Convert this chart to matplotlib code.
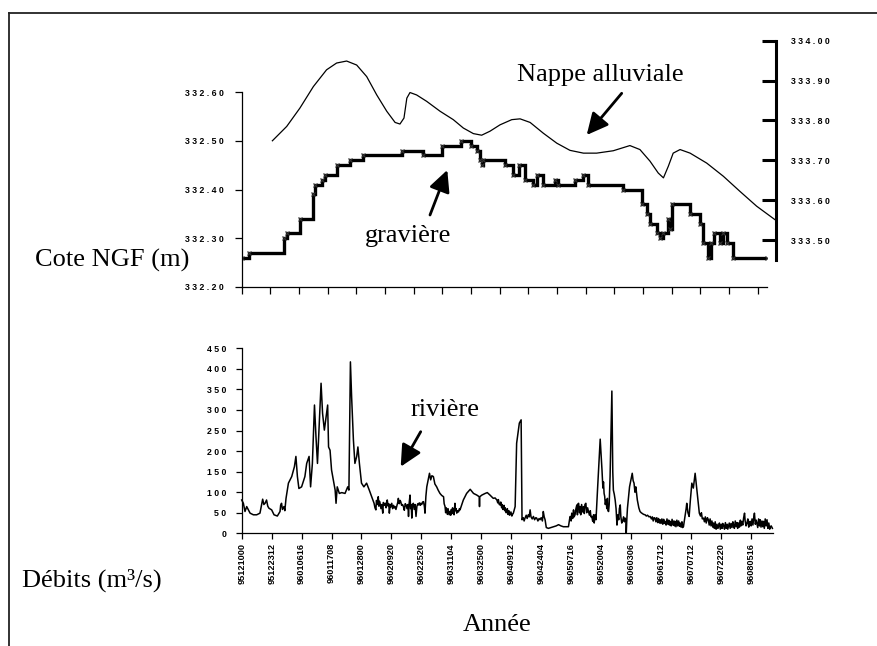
import matplotlib
matplotlib.use('Agg')
import matplotlib.pyplot as plt
from matplotlib.ticker import FuncFormatter
from matplotlib.lines import Line2D

W, H, DPI = 877, 646, 100

# ---------------- data ----------------
# gravière (left axis, m NGF) : step positions (in tick intervals) and levels
grav_t = [0.00, 0.27, 1.475, 1.59, 2.03, 2.50, 2.56, 2.79, 2.91, 3.31, 3.78, 4.24,
          5.58, 6.34, 6.98, 7.65, 8.00, 8.20, 8.31, 8.37, 8.43, 9.18, 9.47, 9.68,
          9.88, 10.17, 10.29, 10.52, 10.93, 11.04, 11.63, 11.91, 12.09, 13.31,
          13.95, 14.13, 14.24, 14.47, 14.59, 14.71, 14.88, 14.94, 15.00, 15.64,
          15.99, 16.10, 16.28, 16.36, 16.47, 16.68, 16.78, 16.92, 17.15, 18.31]
grav_v = [332.26, 332.27, 332.30, 332.31, 332.34, 332.39, 332.41, 332.42, 332.43,
          332.45, 332.46, 332.47, 332.48, 332.47, 332.49, 332.50, 332.49, 332.48,
          332.46, 332.45, 332.46, 332.45, 332.43, 332.45, 332.42, 332.41, 332.43,
          332.41, 332.42, 332.41, 332.42, 332.43, 332.41, 332.40, 332.37, 332.35,
          332.33, 332.31, 332.30, 332.31, 332.34, 332.32, 332.37, 332.35, 332.33,
          332.29, 332.26, 332.29, 332.31, 332.29, 332.31, 332.29, 332.26, 332.26]

# nappe alluviale (right axis, m NGF)
nappe_t = [1.07, 1.57, 2.03, 2.50, 2.96, 3.31, 3.66, 4.01, 4.36, 4.71, 5.06, 5.35,
           5.52, 5.66, 5.76, 5.87, 6.10, 6.45, 6.92, 7.38, 7.73, 8.08, 8.37, 8.66,
           9.01, 9.42, 9.71, 10.06, 10.52, 10.99, 11.45, 11.92, 12.38, 12.96, 13.54,
           13.89, 14.24, 14.53, 14.71, 14.88, 15.05, 15.29, 15.64, 16.22, 16.80,
           17.38, 17.96, 18.66]
nappe_v = [333.749, 333.785, 333.831, 333.885, 333.927, 333.944, 333.949, 333.939,
           333.910, 333.864, 333.823, 333.795, 333.791, 333.806, 333.856, 333.870,
           333.864, 333.848, 333.823, 333.802, 333.781, 333.767, 333.763, 333.773,
           333.789, 333.802, 333.804, 333.795, 333.768, 333.743, 333.725, 333.718,
           333.718, 333.724, 333.737, 333.727, 333.698, 333.668, 333.656, 333.685,
           333.718, 333.727, 333.718, 333.693, 333.660, 333.622, 333.585, 333.548]

# rivière (débits m3/s) : (position, value) pairs
riv_pts = [
    (0.00, 81), (0.056, 73), (0.11, 53), (0.167, 65), (0.28, 49), (0.39, 45),
    (0.50, 45), (0.61, 49), (0.70, 83), (0.74, 70), (0.78, 73), (0.83, 81),
    (0.87, 66), (0.91, 61), (1.00, 57), (1.08, 45), (1.19, 42), (1.28, 53),
    (1.30, 68), (1.33, 73), (1.36, 58), (1.41, 65), (1.44, 55), (1.48, 85),
    (1.56, 122), (1.67, 138), (1.76, 162), (1.81, 187), (1.86, 138), (1.91, 109),
    (2.00, 113), (2.11, 138), (2.17, 170), (2.25, 187), (2.30, 113), (2.36, 170),
    (2.43, 312), (2.48, 235), (2.53, 170), (2.58, 251), (2.65, 365), (2.70, 292),
    (2.76, 251), (2.82, 284), (2.87, 312), (2.90, 210), (2.95, 202), (3.00, 154),
    (3.06, 130), (3.12, 105), (3.15, 73), (3.19, 113), (3.26, 97), (3.34, 99),
    (3.45, 97), (3.54, 113), (3.58, 105), (3.63, 417), (3.67, 332), (3.73, 227),
    (3.78, 170), (3.84, 187), (3.88, 210), (3.93, 170), (4.00, 122), (4.08, 113),
    (4.17, 122), (4.26, 105), (4.34, 89), (4.42, 73), (4.45, 62), (4.48, 57),
    (4.50, 80), (4.53, 70), (4.56, 89), (4.58, 66), (4.60, 78), (4.62, 73),
    (4.65, 60), (4.68, 70), (4.71, 49), (4.73, 75), (4.76, 68), (4.79, 73),
    (4.82, 62), (4.84, 76), (4.86, 81), (4.89, 66), (4.91, 72), (4.93, 49),
    (4.96, 70), (4.98, 64), (5.01, 73), (5.04, 60), (5.07, 68), (5.10, 62),
    (5.12, 65), (5.15, 58), (5.18, 66), (5.21, 75), (5.23, 85), (5.26, 72),
    (5.29, 80), (5.31, 77), (5.34, 68), (5.37, 70), (5.40, 65), (5.43, 56),
    (5.46, 72), (5.49, 69), (5.52, 60), (5.55, 70), (5.57, 41), (5.59, 72),
    (5.62, 93), (5.64, 60), (5.66, 70), (5.68, 37), (5.70, 68), (5.73, 73),
    (5.76, 58), (5.79, 70), (5.82, 41), (5.85, 66), (5.88, 72), (5.90, 69),
    (5.93, 74), (5.96, 68), (5.98, 73), (6.01, 70), (6.04, 76), (6.07, 77),
    (6.10, 65), (6.12, 49), (6.15, 90), (6.18, 113), (6.27, 146), (6.31, 130),
    (6.35, 140), (6.40, 138), (6.45, 120), (6.51, 113), (6.56, 105), (6.62, 97),
    (6.68, 92), (6.74, 89), (6.76, 72), (6.79, 65), (6.81, 50), (6.83, 62),
    (6.85, 57), (6.87, 46), (6.89, 60), (6.91, 52), (6.93, 45), (6.96, 53),
    (6.98, 44), (7.00, 58), (7.02, 48), (7.04, 62), (7.07, 57), (7.09, 45),
    (7.12, 73), (7.14, 55), (7.16, 60), (7.18, 49), (7.21, 55), (7.24, 52),
    (7.27, 60), (7.29, 57), (7.40, 81), (7.51, 97), (7.63, 107), (7.74, 97),
    (7.85, 93), (7.93, 89), (7.94, 65), (7.95, 89), (8.02, 93), (8.13, 97),
    (8.20, 99), (8.29, 93), (8.40, 85), (8.46, 86), (8.52, 81), (8.55, 74),
    (8.57, 82), (8.60, 70), (8.63, 69), (8.65, 76), (8.68, 62), (8.70, 70),
    (8.72, 58), (8.74, 61), (8.76, 68), (8.78, 55), (8.80, 62), (8.83, 50),
    (8.85, 53), (8.87, 60), (8.89, 46), (8.92, 55), (8.94, 44), (8.96, 45),
    (8.99, 52), (9.02, 42), (9.05, 47), (9.07, 49), (9.13, 65), (9.18, 219),
    (9.27, 268), (9.33, 276), (9.36, 33), (9.40, 38), (9.43, 30), (9.46, 37),
    (9.50, 44), (9.53, 36), (9.57, 45), (9.60, 40), (9.63, 57), (9.66, 40),
    (9.70, 35), (9.74, 41), (9.78, 33), (9.82, 38), (9.85, 37), (9.89, 30),
    (9.93, 36), (9.96, 33), (10.00, 38), (10.04, 30), (10.07, 53), (10.10, 40),
    (10.13, 33), (10.17, 14), (10.24, 12), (10.41, 16), (10.50, 18), (10.58, 21),
    (10.66, 18), (10.74, 16), (10.91, 16), (10.95, 35), (10.97, 41), (11.00, 30),
    (11.02, 49), (11.05, 36), (11.08, 57), (11.10, 40), (11.13, 45), (11.16, 60),
    (11.19, 69), (11.21, 45), (11.23, 72), (11.25, 73), (11.28, 50), (11.30, 65),
    (11.32, 45), (11.35, 70), (11.38, 52), (11.41, 65), (11.44, 48), (11.46, 70),
    (11.49, 73), (11.52, 50), (11.55, 62), (11.58, 53), (11.61, 44), (11.64, 55),
    (11.66, 40), (11.69, 41), (11.72, 29), (11.75, 45), (11.77, 25), (11.80, 45),
    (11.83, 33), (11.85, 60), (11.88, 105), (11.97, 229), (12.03, 154),
    (12.06, 110), (12.08, 125), (12.10, 97), (12.12, 90), (12.14, 70),
    (12.17, 81), (12.19, 60), (12.21, 85), (12.23, 55), (12.25, 53), (12.27, 70),
    (12.30, 138), (12.36, 346), (12.39, 150), (12.41, 105), (12.44, 95),
    (12.47, 81), (12.50, 60), (12.53, 20), (12.56, 45), (12.59, 33), (12.61, 60),
    (12.64, 69), (12.66, 40), (12.69, 25), (12.72, 30), (12.75, 40), (12.78, 28),
    (12.80, 37), (12.83, 30), (12.84, 0), (12.86, 35), (12.88, 61), (12.95, 113),
    (13.04, 146), (13.07, 128), (13.10, 122), (13.13, 100), (13.16, 113),
    (13.21, 81), (13.26, 62), (13.30, 53), (13.34, 50), (13.38, 48), (13.42, 46),
    (13.47, 45), (13.51, 42), (13.55, 44), (13.60, 40), (13.64, 41), (13.68, 35),
    (13.71, 40), (13.74, 30), (13.77, 38), (13.80, 37), (13.83, 28), (13.86, 38),
    (13.89, 26), (13.92, 36), (13.95, 25), (13.97, 33), (14.00, 24), (14.03, 35),
    (14.06, 22), (14.09, 34), (14.11, 24), (14.14, 29), (14.17, 20), (14.20, 35),
    (14.23, 22), (14.26, 32), (14.28, 20), (14.31, 29), (14.34, 18), (14.37, 34),
    (14.40, 20), (14.43, 30), (14.45, 18), (14.47, 29), (14.50, 16), (14.53, 32),
    (14.56, 18), (14.59, 30), (14.62, 17), (14.64, 25), (14.67, 15), (14.70, 28),
    (14.72, 14), (14.75, 16), (14.80, 40), (14.84, 60), (14.86, 73), (14.90, 50),
    (14.94, 41), (14.98, 80), (15.03, 122), (15.08, 110), (15.14, 146),
    (15.20, 105), (15.28, 49), (15.32, 42), (15.35, 50), (15.38, 35), (15.42, 37),
    (15.45, 28), (15.48, 40), (15.51, 25), (15.55, 38), (15.58, 33), (15.61, 20),
    (15.64, 35), (15.67, 18), (15.70, 30), (15.73, 15), (15.75, 25), (15.78, 12),
    (15.81, 28), (15.84, 10), (15.87, 22), (15.90, 12), (15.92, 16), (15.95, 25),
    (15.98, 10), (16.01, 22), (16.04, 12), (16.06, 24), (16.09, 20), (16.12, 10),
    (16.15, 26), (16.18, 12), (16.21, 22), (16.23, 10), (16.25, 16), (16.28, 25),
    (16.31, 12), (16.34, 24), (16.37, 14), (16.40, 28), (16.42, 20), (16.45, 12),
    (16.48, 30), (16.51, 16), (16.54, 26), (16.56, 12), (16.59, 25), (16.62, 15),
    (16.65, 32), (16.67, 18), (16.70, 29), (16.73, 20), (16.76, 38), (16.79, 49),
    (16.81, 30), (16.84, 18), (16.87, 25), (16.90, 35), (16.93, 15), (16.95, 28),
    (16.98, 29), (17.01, 18), (17.04, 35), (17.07, 20), (17.10, 40), (17.12, 49),
    (17.15, 22), (17.18, 32), (17.20, 25), (17.23, 14), (17.26, 35), (17.29, 18),
    (17.31, 33), (17.34, 15), (17.37, 30), (17.40, 16), (17.42, 29), (17.45, 12),
    (17.48, 35), (17.51, 18), (17.54, 33), (17.57, 12), (17.60, 25), (17.63, 10),
    (17.65, 16), (17.68, 18), (17.72, 12),
]
riv_t = [p[0] for p in riv_pts]
riv_v = [p[1] for p in riv_pts]

date_labels = ['95121000', '95122312', '96010616', '96011708', '96012800',
               '96020920', '96022520', '96031104', '96032500', '96040912',
               '96042404', '96050716', '96052004', '96060306', '96061712',
               '96070712', '96072220', '96080516']

left_ticks = [332.20, 332.30, 332.40, 332.50, 332.60]
right_ticks = [333.50, 333.60, 333.70, 333.80, 333.90, 334.00]
q_ticks = [0, 50, 100, 150, 200, 250, 300, 350, 400, 450]

# ---------------- figure ----------------
fig = plt.figure(figsize=(W / DPI, H / DPI), dpi=DPI)
SERIF = ['Liberation Serif', 'DejaVu Serif']
SANS = ['Liberation Sans', 'DejaVu Sans']


def px_axes(x0, y0, x1, y1):
    return fig.add_axes([x0 / W, 1 - y1 / H, (x1 - x0) / W, (y1 - y0) / H])


def spaced(fmt):
    return FuncFormatter(lambda v, p: ' '.join(fmt.format(v)))


tickfont = dict(family=SANS, size=6.3, weight='bold')

# top : gravière
ax1 = px_axes(241.7, 92, 766.7, 287)
ax1.set_xlim(0, 18.31)
ax1.set_ylim(332.20, 332.60)
for s in ['top', 'right']:
    ax1.spines[s].set_visible(False)
for s in ['left', 'bottom']:
    ax1.spines[s].set_linewidth(0.9)
ax1.set_yticks(left_ticks)
ax1.yaxis.set_major_formatter(spaced('{:.2f}'))
ax1.set_xticks(range(19))
ax1.set_xticklabels([])
ax1.tick_params(direction='out', length=5, width=0.9, pad=8)
for lab in ax1.get_yticklabels():
    lab.set(**tickfont)
ax1.plot(grav_t, grav_v, drawstyle='steps-post', color='black', lw=2.4,
         solid_joinstyle='miter')
ax1.plot(grav_t, grav_v, ls='none', marker='x', ms=3.2, mew=0.8, color='#333333')
ax1.patch.set_alpha(0)

# top : nappe (right axis)
ax2 = px_axes(241.7, 40.7, 775.7, 260)
ax2.set_xlim(0, (775.7 - 241.7) / 28.67)
ax2.set_ylim(333.45, 334.00)
ax2.patch.set_alpha(0)
for s in ['top', 'left', 'bottom']:
    ax2.spines[s].set_visible(False)
ax2.spines['right'].set_linewidth(2.2)
ax2.set_xticks([])
ax2.yaxis.tick_right()
ax2.set_yticks(right_ticks)
ax2.yaxis.set_major_formatter(spaced('{:.2f}'))
ax2.tick_params(axis='y', direction='in', length=10, width=2.2, pad=11)
for lab in ax2.get_yticklabels():
    lab.set(**tickfont)
ax2.plot(nappe_t, nappe_v, color='black', lw=0.9, clip_on=False)

# bottom : rivière
ax3 = px_axes(241.7, 348.3, 772.7, 533.3)
ax3.set_xlim(0, 17.73)
ax3.set_ylim(0, 450)
for s in ['top', 'right']:
    ax3.spines[s].set_visible(False)
for s in ['left', 'bottom']:
    ax3.spines[s].set_linewidth(0.9)
ax3.set_yticks(q_ticks)
ax3.yaxis.set_major_formatter(spaced('{:.0f}'))
ax3.set_xticks(range(len(date_labels)))
ax3.set_xticklabels(date_labels, rotation=90)
ax3.tick_params(direction='out', length=4, width=0.9)
ax3.tick_params(axis='y', pad=7)
ax3.tick_params(axis='x', pad=3)
for lab in ax3.get_yticklabels():
    lab.set(**tickfont)
for lab in ax3.get_xticklabels():
    lab.set(family=SANS, size=6.6, weight='bold')
ax3.plot(riv_t, riv_v, color='black', lw=1.1, clip_on=False)
ax3.patch.set_alpha(0)


# ---------------- texts & arrows ----------------
def ftext(x, y, s, **kw):
    fig.text(x / W, 1 - y / H, s, family=SERIF, size=19, **kw)


ftext(35, 260, 'Cote NGF (m)', ha='left', va='center')
ftext(22, 580, 'Débits (m³/s)', ha='left', va='center')
ftext(497, 625, 'Année', ha='center', va='center')
ftext(517, 75, 'Nappe alluviale', ha='left', va='center')
ftext(365, 236, 'gravière', ha='left', va='center')
ftext(411, 410, 'rivière', ha='left', va='center')


def farrow(x0, y0, x1, y1):
    fig.add_artist(matplotlib.patches.FancyArrowPatch(
        (x0 / W, 1 - y0 / H), (x1 / W, 1 - y1 / H), transform=fig.transFigure,
        arrowstyle='-|>,head_length=0.65,head_width=0.32', mutation_scale=20,
        lw=2, color='black', shrinkA=0, shrinkB=0))


farrow(621.7, 93.3, 586.7, 135)
farrow(430, 215, 447.3, 170)
farrow(420.7, 431.7, 400.7, 466.7)

# frame
fig.add_artist(Line2D([8.7 / W, 1], [1 - 12.7 / H, 1 - 12.7 / H],
                      transform=fig.transFigure, color='#222222', lw=1.3))
fig.add_artist(Line2D([8.7 / W, 8.7 / W], [0, 1 - 12.7 / H],
                      transform=fig.transFigure, color='#222222', lw=1.3))

fig.savefig('out.png', dpi=DPI)
